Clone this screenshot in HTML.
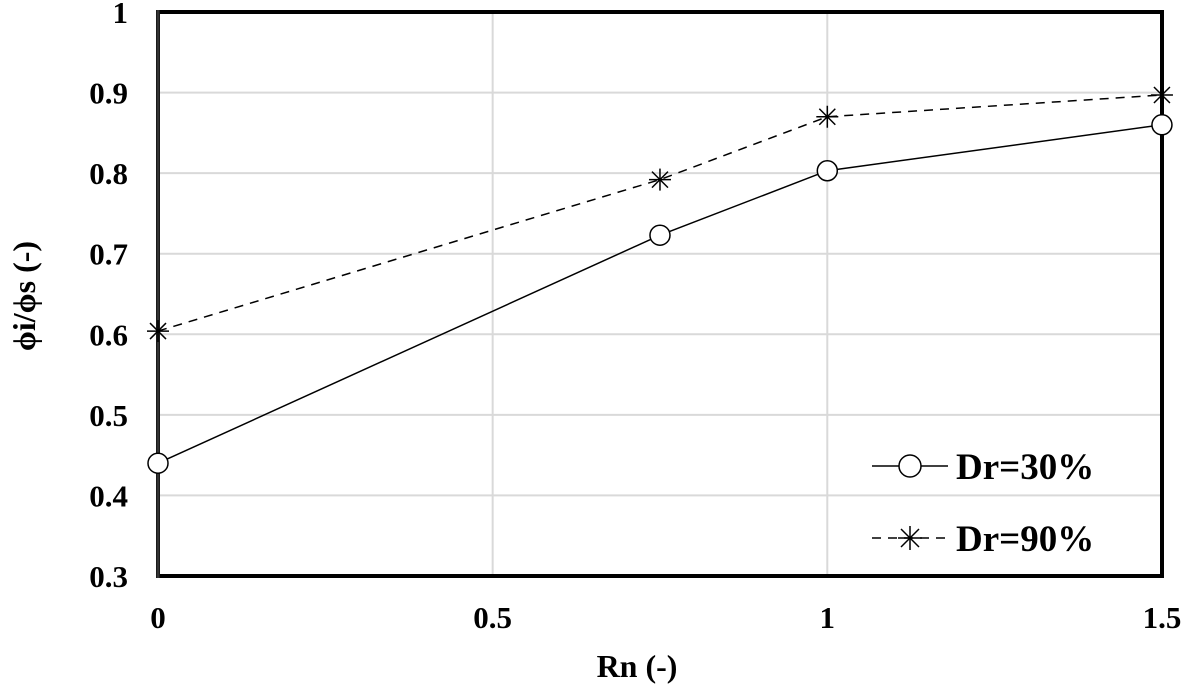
<!DOCTYPE html>
<html><head><meta charset="utf-8"><style>
html,body{margin:0;padding:0;background:#fff;}
svg{display:block;font-family:"Liberation Serif",serif;font-weight:bold;}
</style></head><body>
<svg id="chart" width="1186" height="687">
<g id="grid"></g>
<rect x="158" y="12" width="1004" height="564" fill="none" stroke="#000" stroke-width="4"/>
<line x1="158" y1="10" x2="158" y2="578" stroke="#333" stroke-width="3"/>
<g id="ticks"></g>
<g id="series"></g>
<text x="637" y="677" font-size="32" text-anchor="middle">Rn (-)</text>
<text transform="translate(35,296) rotate(-90)" font-size="32" text-anchor="middle">ϕi/ϕs (-)</text>
<g>
<line x1="872" y1="466" x2="948" y2="466" stroke="#000" stroke-width="1.5"/>
<circle cx="910" cy="466" r="11" fill="#fff" stroke="#000" stroke-width="1.5"/>
<text x="956" y="479" font-size="37">Dr=30%</text>
<line x1="872" y1="538" x2="948" y2="538" stroke="#000" stroke-width="1.5" stroke-dasharray="9,7"/>
<g stroke="#000" stroke-width="1.5"><line x1="898" y1="538" x2="922" y2="538"/><line x1="910" y1="526" x2="910" y2="550"/><line x1="901" y1="529" x2="919" y2="547"/><line x1="919" y1="529" x2="901" y2="547"/></g>
<text x="956" y="551" font-size="37">Dr=90%</text>
</g>
</svg>
<script>
const xTicks=[0,0.5,1,1.5];
const yTicks=[0.3,0.4,0.5,0.6,0.7,0.8,0.9,1];
const rn=[0,0.75,1,1.5];
const dr30=[0.44,0.723,0.803,0.86];
const dr90=[0.604,0.792,0.870,0.897];
const NS='http://www.w3.org/2000/svg';
const X=v=>158+v*669.3, Y=v=>576-(v-0.3)*805.7;
function mk(t,a,p){const e=document.createElementNS(NS,t);for(const k in a)e.setAttribute(k,a[k]);p.appendChild(e);return e;}
const grid=document.getElementById('grid'),ticks=document.getElementById('ticks'),ser=document.getElementById('series');
xTicks.forEach(v=>{
 const l=mk('line',{x1:X(v),x2:X(v),y1:12,y2:576,stroke:'#d9d9d9','stroke-width':2},grid);
 
 
 const t=mk('text',{x:X(v),y:628,'font-size':31,'text-anchor':'middle'},ticks);t.textContent=v;
 
 
});
yTicks.forEach(v=>{
 const l=mk('line',{x1:158,x2:1162,y1:Y(v),y2:Y(v),stroke:'#d9d9d9','stroke-width':2},grid);
 
 
 const t=mk('text',{x:128,y:Y(v)+11,'font-size':31,'text-anchor':'end'},ticks);t.textContent=v;
 
 
});
const p1=mk('polyline',{points:rn.map((r,i)=>X(r)+','+Y(dr30[i])).join(' '),fill:'none',stroke:'#000','stroke-width':1.5},ser);


const p2=mk('polyline',{points:rn.map((r,i)=>X(r)+','+Y(dr90[i])).join(' '),fill:'none',stroke:'#000','stroke-width':1.5,'stroke-dasharray':'9,7'},ser);


rn.forEach((r,i)=>{
 const c=mk('circle',{cx:X(r),cy:Y(dr30[i]),r:10,fill:'#fff',stroke:'#000','stroke-width':1.5},ser);
 
 
 const g=mk('g',{stroke:'#000','stroke-width':1.5},ser);
 
 
 const x=X(r),y=Y(dr90[i]);
 mk('line',{x1:x-11,x2:x+11,y1:y,y2:y},g);mk('line',{x1:x,x2:x,y1:y-11,y2:y+11},g);
 mk('line',{x1:x-8,x2:x+8,y1:y-8,y2:y+8},g);mk('line',{x1:x+8,x2:x-8,y1:y-8,y2:y+8},g);
});
</script>
</body></html>
